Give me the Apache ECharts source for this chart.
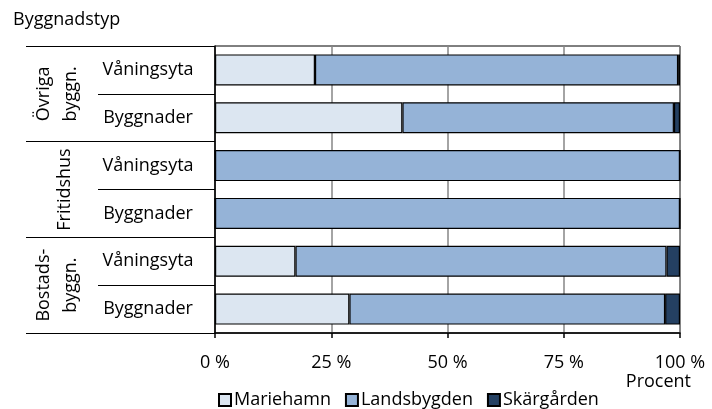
<!DOCTYPE html>
<html>
<head>
<meta charset="utf-8">
<script src="https://cdn.jsdelivr.net/npm/echarts@6/dist/echarts.min.js"></script>
<style>html,body{margin:0;padding:0;background:#fff}#c{width:712px;height:409px}</style>
</head>
<body>
<div id="c"></div>
<script>
// Categories (bottom to top)
const groups = ['Bostads-\nbyggn.', 'Fritidshus', 'Övriga\nbyggn.'];
const subTypes = ['Byggnader', 'Våningsyta', 'Byggnader', 'Våningsyta', 'Byggnader', 'Våningsyta'];
const xTicks = [0, 25, 50, 75, 100];
// Series values (percent), bottom to top
const mariehamn   = [28.9, 17.3, 0,   0,   40.3, 21.5];
const landsbygden = [67.9, 79.8, 100, 100, 58.4, 78.1];
const skargarden  = [3.2,  2.9,  0,   0,   1.3,  0.4];
const seriesNames = ['Mariehamn', 'Landsbygden', 'Skärgården'];
const seriesColors = ['#dce6f1', '#95b3d7', '#244062'];

const FONT = 'Open Sans';
const chart = echarts.init(document.getElementById('c'), null, {renderer: 'canvas'});
const seriesData = [mariehamn, landsbygden, skargarden];
chart.setOption({
  animation: false,
  textStyle: {fontFamily: FONT, color: '#000'},
  title: [
    {text: 'Byggnadstyp', left: 8, top: 6, textStyle: {fontFamily: FONT, fontSize: 18, fontWeight: 'normal', color: '#000'}},
    {text: 'Procent', right: 16, top: 368, textStyle: {fontFamily: FONT, fontSize: 18, fontWeight: 'normal', color: '#000'}}
  ],
  legend: {
    data: seriesNames,
    left: 213, top: 386,
    icon: 'rect', itemWidth: 12, itemHeight: 12, itemGap: 14,
    textStyle: {fontFamily: FONT, fontSize: 18, color: '#000', padding: [0, 0, 0, -2]}
  },
  grid: {left: 215, right: 32, top: 46, bottom: 76, show: true, borderColor: '#000', borderWidth: 1, backgroundColor: '#fff'},
  xAxis: {
    type: 'value', min: 0, max: 100, interval: 25,
    axisLine: {show: true, lineStyle: {color: '#000', width: 1.5}},
    axisTick: {show: true, length: 5, lineStyle: {color: '#000', width: 1.5}},
    splitLine: {show: true, lineStyle: {color: '#868686', width: 1.5}},
    axisLabel: {fontFamily: FONT, fontSize: 18, color: '#000', margin: 21, formatter: v => xTicks.includes(v) ? v + ' %' : ''}
  },
  yAxis: [
    {
      type: 'category', data: subTypes, position: 'left',
      axisLine: {show: true, lineStyle: {color: '#000', width: 1.5}},
      axisTick: {show: true, length: 117, lineStyle: {color: '#000', width: 1.2}},
      axisLabel: {interval: 0, fontFamily: FONT, fontSize: 18, color: '#000', align: 'center', margin: 67}
    },
    {
      type: 'category', data: groups, position: 'left', offset: 0,
      axisLine: {show: false},
      axisTick: {show: true, interval: 0, length: 189, lineStyle: {color: '#000', width: 1.2}},
      axisLabel: {
        interval: 0, hideOverlap: false, fontFamily: FONT, fontSize: 18, color: '#000',
        rotate: 90, align: 'center', verticalAlign: 'middle', margin: 158, lineHeight: 27,
        formatter: v => v.indexOf('\n') < 0 ? '{one|' + v + '}' : v,
        rich: {one: {fontFamily: FONT, fontSize: 18, color: '#000', padding: [16, 0, 0, 0]}}
      }
    }
  ],
  series: seriesNames.map((n, i) => ({
    name: n, type: 'bar', stack: 'total', yAxisIndex: 0,
    data: seriesData[i], barWidth: 31,
    itemStyle: {color: seriesColors[i], borderColor: '#000', borderWidth: 1.2}
  }))
});
</script>
</body>
</html>
